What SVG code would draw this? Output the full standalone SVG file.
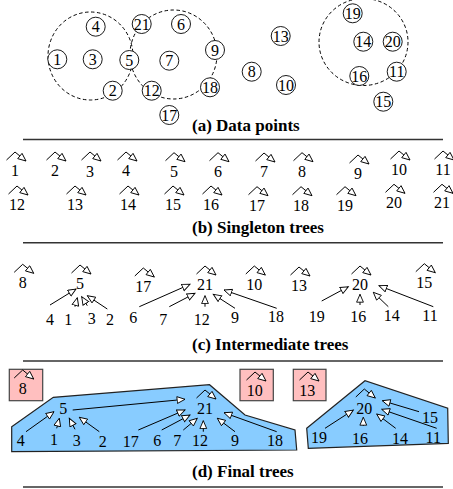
<svg xmlns="http://www.w3.org/2000/svg" xmlns:xlink="http://www.w3.org/1999/xlink" width="453" height="489" viewBox="0 0 453 489">
<style>
.lbl{font-family:"Liberation Serif","Times New Roman",serif;font-size:16px;text-anchor:middle;fill:#000}
.cap{font-family:"Liberation Serif","Times New Roman",serif;font-size:17px;font-weight:bold;fill:#000}
.pt{fill:#fff;stroke:#000;stroke-width:0.9}
.dash{fill:none;stroke:#000;stroke-width:1;stroke-dasharray:3.5 2.5}
.edge{fill:none;stroke:#000;stroke-width:1;marker-end:url(#ah)}
.rule{stroke:#333;stroke-width:1.4}
.blue{fill:#88ccff;stroke:#222;stroke-width:1.2}
.pink{fill:#ffbfbf;stroke:#444;stroke-width:1.2}
</style>
<defs>
<marker id="ah" markerUnits="userSpaceOnUse" markerWidth="10" markerHeight="9" refX="8.5" refY="4" orient="auto">
<path d="M0.6,0.6 L8.5,4 L0.6,7.4 Z" fill="#fff" stroke="#000" stroke-width="0.9"/>
</marker>
<path id="loop" class="edge" d="M-8.5,-16 L0,-24 L11,-15"/>
</defs>

<!-- (a) data points -->
<g id="clusters">
<ellipse class="dash" cx="90.5" cy="56" rx="42.5" ry="44"/>
<ellipse class="dash" cx="173.5" cy="54.5" rx="43.5" ry="44.5"/>
<ellipse class="dash" cx="363.5" cy="42" rx="44.5" ry="43.5"/>
</g>
<g id="a-1"><circle class="pt" cx="57.3" cy="59.3" r="9.5"/><text class="lbl" x="57.3" y="65">1</text></g>
<g id="a-2"><circle class="pt" cx="112.7" cy="90.7" r="9.5"/><text class="lbl" x="112.7" y="96.4">2</text></g>
<g id="a-3"><circle class="pt" cx="92.7" cy="59.3" r="9.5"/><text class="lbl" x="92.7" y="65">3</text></g>
<g id="a-4"><circle class="pt" cx="95.7" cy="26.7" r="9.5"/><text class="lbl" x="95.7" y="32.4">4</text></g>
<g id="a-5"><circle class="pt" cx="129.3" cy="60" r="9.5"/><text class="lbl" x="129.3" y="65.7">5</text></g>
<g id="a-6"><circle class="pt" cx="181" cy="24" r="9.5"/><text class="lbl" x="181" y="29.7">6</text></g>
<g id="a-7"><circle class="pt" cx="169.3" cy="60.7" r="9.5"/><text class="lbl" x="169.3" y="66.4">7</text></g>
<g id="a-8"><circle class="pt" cx="251.7" cy="71.7" r="9.5"/><text class="lbl" x="251.7" y="77.4">8</text></g>
<g id="a-9"><circle class="pt" cx="215" cy="50" r="9.5"/><text class="lbl" x="215" y="55.7">9</text></g>
<g id="a-10"><circle class="pt" cx="286" cy="85" r="9.5"/><text class="lbl" x="286" y="90.7">10</text></g>
<g id="a-11"><circle class="pt" cx="396.7" cy="71.7" r="9.5"/><text class="lbl" x="396.7" y="77.4">11</text></g>
<g id="a-12"><circle class="pt" cx="151.7" cy="90.7" r="9.5"/><text class="lbl" x="151.7" y="96.4">12</text></g>
<g id="a-13"><circle class="pt" cx="280.7" cy="36" r="9.5"/><text class="lbl" x="280.7" y="41.7">13</text></g>
<g id="a-14"><circle class="pt" cx="363.3" cy="41.7" r="9.5"/><text class="lbl" x="363.3" y="47.4">14</text></g>
<g id="a-15"><circle class="pt" cx="383.3" cy="101.7" r="9.5"/><text class="lbl" x="383.3" y="107.4">15</text></g>
<g id="a-16"><circle class="pt" cx="359.3" cy="76" r="9.5"/><text class="lbl" x="359.3" y="81.7">16</text></g>
<g id="a-17"><circle class="pt" cx="169.3" cy="115" r="9.5"/><text class="lbl" x="169.3" y="120.7">17</text></g>
<g id="a-18"><circle class="pt" cx="210" cy="87.3" r="9.5"/><text class="lbl" x="210" y="93">18</text></g>
<g id="a-19"><circle class="pt" cx="352.7" cy="13.3" r="9.5"/><text class="lbl" x="352.7" y="19">19</text></g>
<g id="a-20"><circle class="pt" cx="392.7" cy="41.7" r="9.5"/><text class="lbl" x="392.7" y="47.4">20</text></g>
<g id="a-21"><circle class="pt" cx="141.7" cy="24" r="9.5"/><text class="lbl" x="141.7" y="29.7">21</text></g>
<text class="cap" x="192" y="131">(a) Data points</text>
<line class="rule" x1="23" y1="139.5" x2="443" y2="139.5"/>

<!-- (b) singleton trees -->
<g id="b-1"><text class="lbl" x="15" y="176">1</text></g>
<g id="b-2"><text class="lbl" x="55" y="176">2</text></g>
<g id="b-3"><text class="lbl" x="90" y="176.5">3</text></g>
<g id="b-4"><text class="lbl" x="126" y="176">4</text></g>
<g id="b-5"><text class="lbl" x="174" y="176.7">5</text></g>
<g id="b-6"><text class="lbl" x="218" y="176.7">6</text></g>
<g id="b-7"><text class="lbl" x="264" y="177">7</text></g>
<g id="b-8"><text class="lbl" x="302" y="176.7">8</text></g>
<g id="b-9"><text class="lbl" x="358" y="179">9</text></g>
<g id="b-10"><text class="lbl" x="399" y="175">10</text></g>
<g id="b-11"><text class="lbl" x="443" y="175">11</text></g>
<g id="b-12"><text class="lbl" x="17" y="210">12</text></g>
<g id="b-13"><text class="lbl" x="75" y="210">13</text></g>
<g id="b-14"><text class="lbl" x="128" y="210">14</text></g>
<g id="b-15"><text class="lbl" x="173" y="210">15</text></g>
<g id="b-16"><text class="lbl" x="211" y="210">16</text></g>
<g id="b-17"><text class="lbl" x="257" y="210.7">17</text></g>
<g id="b-18"><text class="lbl" x="301" y="210.7">18</text></g>
<g id="b-19"><text class="lbl" x="345" y="210.7">19</text></g>
<g id="b-20"><text class="lbl" x="394" y="208.3">20</text></g>
<g id="b-21"><text class="lbl" x="442" y="208.3">21</text></g>
<text class="cap" x="192" y="233">(b) Singleton trees</text>
<line class="rule" x1="23" y1="242.7" x2="443" y2="242.7"/>

<!-- (c) intermediate trees -->
<g id="c-8"><text class="lbl" x="22.7" y="288.3">8</text></g>
<g id="c-5"><text class="lbl" x="80" y="289">5</text></g>
<g id="c-17"><text class="lbl" x="143.3" y="292">17</text></g>
<g id="c-21"><text class="lbl" x="205" y="290">21</text></g>
<g id="c-10"><text class="lbl" x="254.3" y="290">10</text></g>
<g id="c-13"><text class="lbl" x="299" y="291">13</text></g>
<g id="c-20"><text class="lbl" x="360" y="290">20</text></g>
<g id="c-15"><text class="lbl" x="424.3" y="287.7">15</text></g>
<g id="c-4"><text class="lbl" x="50" y="325">4</text></g>
<g id="c-1"><text class="lbl" x="68.3" y="325">1</text></g>
<g id="c-3"><text class="lbl" x="91.7" y="324.3">3</text></g>
<g id="c-2"><text class="lbl" x="110" y="325">2</text></g>
<g id="c-6"><text class="lbl" x="133.3" y="323.3">6</text></g>
<g id="c-7"><text class="lbl" x="163.3" y="325">7</text></g>
<g id="c-12"><text class="lbl" x="201.7" y="325">12</text></g>
<g id="c-9"><text class="lbl" x="235" y="323.3">9</text></g>
<g id="c-18"><text class="lbl" x="276" y="321.7">18</text></g>
<g id="c-19"><text class="lbl" x="316.7" y="321.7">19</text></g>
<g id="c-16"><text class="lbl" x="358.3" y="321.7">16</text></g>
<g id="c-14"><text class="lbl" x="391.7" y="321">14</text></g>
<g id="c-11"><text class="lbl" x="430" y="321">11</text></g>
<text class="cap" x="192" y="349.5">(c) Intermediate trees</text>
<line class="rule" x1="23" y1="361" x2="443" y2="361"/>

<!-- (d) final trees -->
<g id="d-tree21"><polygon class="blue" points="11.7,426.7 53.3,397.3 209.5,384.7 245,415 295,430 296.7,450 11.7,451.7"/></g>
<g id="d-tree20"><polygon class="blue" points="306.7,428.3 365,380.7 447.7,408.3 448.3,443.3 308.3,448.3"/></g>
<g id="d-8"><rect class="pink" x="9.3" y="369.3" width="33.4" height="31.4"/><text class="lbl" x="22.7" y="394">8</text></g>
<g id="d-10"><rect class="pink" x="240" y="369.3" width="33.3" height="31.4"/><text class="lbl" x="254.7" y="396">10</text></g>
<g id="d-13"><rect class="pink" x="293.3" y="369.3" width="32.7" height="31.4"/><text class="lbl" x="307.3" y="396">13</text></g>
<g id="d-5"><text class="lbl" x="63.3" y="414">5</text></g>
<g id="d-21"><text class="lbl" x="205" y="414">21</text></g>
<g id="d-20"><text class="lbl" x="364.3" y="414">20</text></g>
<g id="d-15"><text class="lbl" x="430" y="422.7">15</text></g>
<g id="d-4"><text class="lbl" x="20.7" y="446">4</text></g>
<g id="d-1"><text class="lbl" x="54" y="445">1</text></g>
<g id="d-3"><text class="lbl" x="76.7" y="446">3</text></g>
<g id="d-2"><text class="lbl" x="102.7" y="447.3">2</text></g>
<g id="d-17"><text class="lbl" x="130.7" y="447.3">17</text></g>
<g id="d-6"><text class="lbl" x="157.3" y="446">6</text></g>
<g id="d-7"><text class="lbl" x="177.3" y="446">7</text></g>
<g id="d-12"><text class="lbl" x="200" y="446">12</text></g>
<g id="d-9"><text class="lbl" x="235" y="446">9</text></g>
<g id="d-18"><text class="lbl" x="275" y="446">18</text></g>
<g id="d-19"><text class="lbl" x="319" y="443.3">19</text></g>
<g id="d-16"><text class="lbl" x="360" y="444">16</text></g>
<g id="d-14"><text class="lbl" x="400" y="444">14</text></g>
<g id="d-11"><text class="lbl" x="433.3" y="443.3">11</text></g>
<text class="cap" x="192" y="476.5">(d) Final trees</text>
<line class="rule" x1="23" y1="487" x2="443" y2="487"/>

<g id="connectors">
<!-- (b) self loops -->
<use xlink:href="#loop" x="15" y="176"/>
<use xlink:href="#loop" x="55" y="176"/>
<use xlink:href="#loop" x="90" y="176"/>
<use xlink:href="#loop" x="126" y="176"/>
<use xlink:href="#loop" x="174" y="176.7"/>
<use xlink:href="#loop" x="218" y="176.7"/>
<use xlink:href="#loop" x="264" y="177"/>
<use xlink:href="#loop" x="302" y="176.7"/>
<use xlink:href="#loop" x="358" y="179"/>
<use xlink:href="#loop" x="399" y="175"/>
<use xlink:href="#loop" x="443" y="175"/>
<use xlink:href="#loop" x="17" y="210"/>
<use xlink:href="#loop" x="75" y="210"/>
<use xlink:href="#loop" x="128" y="210"/>
<use xlink:href="#loop" x="173" y="210"/>
<use xlink:href="#loop" x="211" y="210"/>
<use xlink:href="#loop" x="257" y="210.7"/>
<use xlink:href="#loop" x="301" y="210.7"/>
<use xlink:href="#loop" x="345" y="210.7"/>
<use xlink:href="#loop" x="394" y="208.3"/>
<use xlink:href="#loop" x="442" y="208.3"/>
<!-- (c) self loops -->
<use xlink:href="#loop" x="22.7" y="288.3"/>
<use xlink:href="#loop" x="80" y="289"/>
<use xlink:href="#loop" x="143.3" y="292"/>
<use xlink:href="#loop" x="205" y="290"/>
<use xlink:href="#loop" x="254.3" y="290"/>
<use xlink:href="#loop" x="299" y="291"/>
<use xlink:href="#loop" x="360" y="290"/>
<use xlink:href="#loop" x="424.3" y="287.7"/>
<!-- (c) edges -->
<path class="edge" d="M50,305 L76,289"/>
<path class="edge" d="M75,306.7 L77.3,297.7"/>
<path class="edge" d="M87.3,305.7 L81.7,296.7"/>
<path class="edge" d="M107.3,309 L87.3,295.7"/>
<path class="edge" d="M139.3,306.7 L190,284.3"/>
<path class="edge" d="M169.3,306.7 L195,293.3"/>
<path class="edge" d="M205,306.7 L205,295.7"/>
<path class="edge" d="M235,308.3 L213.3,294.3"/>
<path class="edge" d="M276.7,308.3 L224,290"/>
<path class="edge" d="M321.7,301 L348.3,286.7"/>
<path class="edge" d="M360,305 L360,294.3"/>
<path class="edge" d="M388.3,306.7 L373.3,292.3"/>
<path class="edge" d="M433.3,306.7 L379,285.7"/>
<!-- (d) self loops -->
<use xlink:href="#loop" x="22.7" y="394"/>
<use xlink:href="#loop" x="255" y="396"/>
<use xlink:href="#loop" x="308" y="396"/>
<use xlink:href="#loop" x="205" y="414"/>
<use xlink:href="#loop" x="364.3" y="413"/>
<!-- (d) edges -->
<path class="edge" d="M26,431.7 L54,411.7"/>
<path class="edge" d="M56.7,428.3 L59.3,418.3"/>
<path class="edge" d="M75,429.3 L69.3,418.3"/>
<path class="edge" d="M99.3,431.7 L79.3,417.3"/>
<path class="edge" d="M72.7,410 L185,399.3"/>
<path class="edge" d="M138.3,430 L185,410"/>
<path class="edge" d="M161.7,430 L190,415"/>
<path class="edge" d="M183.3,430 L197.3,418.3"/>
<path class="edge" d="M203.3,431.7 L203.3,420.7"/>
<path class="edge" d="M235,431.7 L217.3,418.3"/>
<path class="edge" d="M276.7,431.7 L224,412.7"/>
<path class="edge" d="M325,428.3 L353.3,410"/>
<path class="edge" d="M363.3,426 L363.3,417.3"/>
<path class="edge" d="M395.7,428.3 L376.7,414"/>
<path class="edge" d="M436.7,428.3 L381.7,409.3"/>
<path class="edge" d="M419,411.7 L382.3,400.7"/>
</g>
</svg>
